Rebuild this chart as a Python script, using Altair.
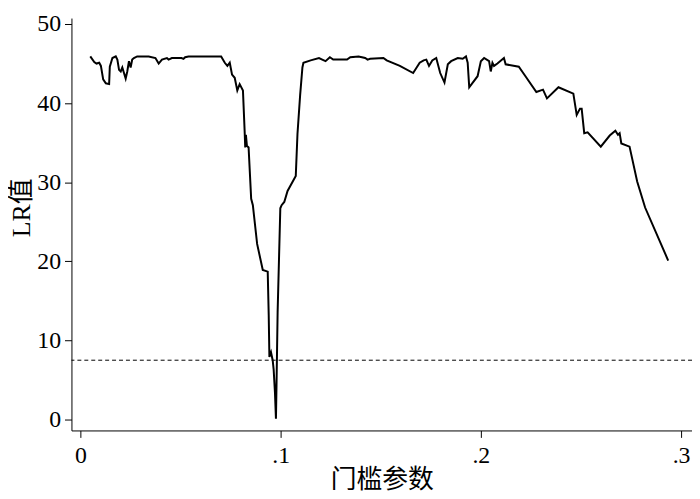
import altair as alt
import pandas as pd

threshold = [
    0.00495, 0.00693, 0.00807, 0.00941, 0.01025, 0.01139, 0.01272, 0.01436, 0.0147, 0.0160,
    0.01767, 0.01847, 0.01931, 0.02015, 0.02094, 0.02178, 0.02262, 0.02342, 0.02426, 0.0251,
    0.02589, 0.02673, 0.02837, 0.03416, 0.03748, 0.03911, 0.04074, 0.04322, 0.04406, 0.04569,
    0.0505, 0.05149, 0.05233, 0.0540, 0.0703, 0.07213, 0.07342, 0.0746, 0.07574, 0.07708,
    0.07837, 0.07955, 0.08119, 0.08203, 0.08233, 0.08267, 0.08317, 0.08401, 0.0853, 0.08614,
    0.08827, 0.09109, 0.09356, 0.09406, 0.0944, 0.0952, 0.09604, 0.09653, 0.09718, 0.09767,
    0.09802, 0.09851, 0.09985, 0.10050, 0.10183, 0.10347, 0.10757, 0.10842, 0.10975, 0.11089,
    0.11139, 0.115, 0.11916, 0.12079, 0.12243, 0.1246, 0.12624, 0.13317, 0.1348, 0.13896,
    0.14223, 0.14342, 0.1447, 0.15134, 0.15297, 0.15955, 0.16619, 0.16946, 0.17144, 0.17277,
    0.17411, 0.17574, 0.17772, 0.1797, 0.18183, 0.18351, 0.18515, 0.18847, 0.19094, 0.19257,
    0.19342, 0.1942, 0.19837, 0.2, 0.20163, 0.20411, 0.20495, 0.20579, 0.20658, 0.20827,
    0.21153, 0.21238, 0.21896, 0.22228, 0.22772, 0.23104, 0.23302, 0.23876, 0.24619, 0.24787,
    0.2495, 0.25035, 0.25163, 0.25332, 0.2599, 0.26436, 0.26718, 0.26847, 0.26931, 0.27015,
    0.27426, 0.27807, 0.28203, 0.29356,
]
lr_value = [
    45.9, 45.2, 45.0, 45.1, 44.7, 43.0, 42.5, 42.4, 44.6, 45.7,
    45.9, 45.5, 44.2, 44.0, 44.5, 43.8, 43.1, 44.0, 45.3, 44.5,
    45.5, 45.7, 45.9, 45.9, 45.7, 45.0, 45.5, 45.7, 45.5, 45.7,
    45.7, 45.6, 45.8, 45.9, 45.9, 45.1, 44.7, 45.1, 43.6, 43.2,
    41.6, 42.4, 41.6, 36.5, 34.4, 36.0, 34.6, 34.4, 27.9, 27.1,
    22.2, 18.9, 18.7, 13.2, 7.9, 8.5, 7.5, 6.3, 3.4, 0.1,
    5.4, 13.6, 26.7, 27.1, 27.5, 28.9, 30.8, 36.1, 41.0, 44.5,
    45.1, 45.4, 45.7, 45.5, 45.3, 45.8, 45.5, 45.5, 45.8, 45.9,
    45.7, 45.5, 45.6, 45.7, 45.4, 44.7, 43.8, 45.1, 45.4, 45.5,
    44.7, 45.4, 45.7, 43.8, 42.6, 44.9, 45.3, 45.7, 45.6, 45.9,
    45.1, 42.0, 43.4, 45.3, 45.7, 45.3, 44.0, 45.1, 44.7, 45.0,
    45.7, 44.9, 44.6, 43.4, 41.4, 41.7, 40.6, 42.0, 41.2, 38.5,
    39.3, 39.3, 36.2, 36.3, 34.5, 35.9, 36.5, 36.0, 36.2, 34.9,
    34.5, 30.1, 26.8, 20.1,
]
critical_value = [7.5]

x_ticks = [0, 0.1, 0.2, 0.3]
y_ticks = [0, 10, 20, 30, 40, 50]

FONT = "Liberation Serif, Noto Sans CJK SC"

df = pd.DataFrame({"threshold": threshold, "lr": lr_value})
crit = pd.DataFrame({"cv": critical_value})

x_scale = alt.Scale(domain=[-0.00446, 0.30545], nice=False, zero=False)
y_scale = alt.Scale(domain=[-1.378, 50.75], nice=False, zero=False)

line = alt.Chart(df).mark_line(color="black", strokeWidth=2).encode(
    x=alt.X(
        "threshold:Q",
        scale=x_scale,
        title="门槛参数",
        axis=alt.Axis(
            values=x_ticks,
            labelExpr="datum.value == 0 ? '0' : '.' + format(datum.value * 10, 'd')",
            labelPadding=6,
            titleY=37,
        ),
    ),
    y=alt.Y(
        "lr:Q",
        scale=y_scale,
        title="LR值",
        axis=alt.Axis(values=y_ticks, labelPadding=4, titleX=-37, titleY=191),
    ),
)

rule = alt.Chart(crit).mark_rule(
    color="black", strokeWidth=1, strokeDash=[4, 3]
).encode(y=alt.Y("cv:Q", scale=y_scale))

chart = (
    alt.layer(line, rule)
    .properties(
        width=626,
        height=416,
        autosize=alt.AutoSizeParams(type="none"),
        padding={"left": 64, "top": 8, "right": 0, "bottom": 66},
    )
    .configure_view(stroke=None)
    .configure_axis(
        grid=False,
        domainColor="black",
        domainWidth=1,
        tickColor="black",
        tickWidth=1,
        tickSize=7,
        labelColor="black",
        labelFont=FONT,
        labelFontSize=24,
        titleFont=FONT,
        titleFontSize=26,
        titleFontWeight="normal",
        titleColor="black",
    )
    .configure_axisY(labelAngle=0)
)

chart.save("out.html", embed_options={"renderer": "svg", "actions": False})
